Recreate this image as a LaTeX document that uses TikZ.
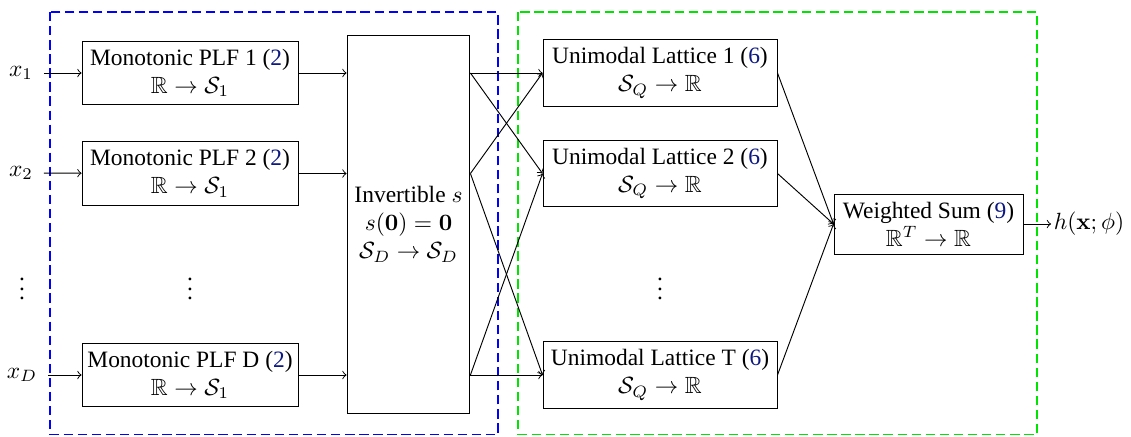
\documentclass[tikz,border=0pt]{standalone}
\usepackage{amssymb}
\usepackage[no-math]{fontspec}
\setmainfont{Liberation Serif}
\definecolor{refblue}{rgb}{0.05,0.1,0.5}
\definecolor{frameblue}{rgb}{0,0,1}
\definecolor{framegreen}{rgb}{0,0.9,0}
\newcommand\rfn[1]{(\textcolor{refblue}{#1})}
\begin{document}
\begin{tikzpicture}[x=0.4264pt,y=-0.4264pt,
  box/.style={draw, align=center, inner sep=2pt},
  plf/.style={box, minimum width=92.1pt, minimum height=26.9pt},
  lat/.style={box, minimum width=99.8pt, minimum height=28.3pt},
  lbl/.style={inner sep=1pt},
  inlbl/.style={inner sep=4.5pt},
  conn/.style={->},
  frame/.style={line width=0.8pt, dash pattern=on 4pt off 2pt}]
\useasboundingbox (0,0) rectangle (1131,436);
% frames
\draw[frame, frameblue] (50,12) rectangle (498,434.5);
\draw[frame, framegreen] (518,12) rectangle (1037,434.5);
% inputs
\node[inlbl] (x1) at (21,73) {$x_1$};
\node[inlbl] (x2) at (21,173) {$x_2$};
\node[inlbl] (xD) at (22,375) {$x_D$};
\node (vd1) at (22,282) {$\vdots$};
% PLF boxes
\node[plf] (p1) at (190,73) {Monotonic PLF 1 \rfn{2}\\$\mathbb{R}\to\mathcal{S}_1$};
\node[plf] (p2) at (190,173.5) {Monotonic PLF 2 \rfn{2}\\$\mathbb{R}\to\mathcal{S}_1$};
\node[plf] (pD) at (190,375) {Monotonic PLF D \rfn{2}\\$\mathbb{R}\to\mathcal{S}_1$};
\node (vd2) at (190,282) {$\vdots$};
% invertible
\node[box, minimum width=52.4pt, minimum height=161.2pt] (inv) at (408.5,224)
  {Invertible $s$\\$s(\mathbf{0})=\mathbf{0}$\\$\mathcal{S}_D\to\mathcal{S}_D$};
% lattices
\node[lat] (l1) at (660,73) {Unimodal Lattice 1 \rfn{6}\\$\mathcal{S}_Q\to\mathbb{R}$};
\node[lat] (l2) at (660,173.5) {Unimodal Lattice 2 \rfn{6}\\$\mathcal{S}_Q\to\mathbb{R}$};
\node[lat] (lT) at (660,375) {Unimodal Lattice T \rfn{6}\\$\mathcal{S}_Q\to\mathbb{R}$};
\node (vd3) at (660,282) {$\vdots$};
% weighted sum
\node[box, minimum width=80.6pt, minimum height=25.6pt] (ws) at (928.5,224)
  {Weighted Sum \rfn{9}\\$\mathbb{R}^T\to\mathbb{R}$};
\node[lbl, anchor=west] (h) at (1051,224) {$h(\mathbf{x};\phi)$};
% coordinates on invertible box
\coordinate (i1) at (inv.west |- p1.east);
\coordinate (i2) at (inv.west |- p2.east);
\coordinate (iD) at (inv.west |- pD.east);
\coordinate (o1) at (inv.east |- l1.west);
\coordinate (o2) at (inv.east |- l2.west);
\coordinate (oD) at (inv.east |- lT.west);
% connectors
\draw[conn] (x1) -- (p1);
\draw[conn] (x2) -- (p2);
\draw[conn] (xD) -- (pD);
\draw[conn] (p1) -- (i1);
\draw[conn] (p2) -- (i2);
\draw[conn] (pD) -- (iD);
\draw[conn] (o1) -- (l1.west);
\draw[conn] (o1) -- (l2.west);
\draw[conn] (o2) -- (l1.west);
\draw[conn] (o2) -- (lT.west);
\draw[conn] (oD) -- (l2.west);
\draw[conn] (oD) -- (lT.west);
\draw[conn] (l1.east) -- (ws.west);
\draw[conn] (l2.east) -- (ws.west);
\draw[conn] (lT.east) -- (ws.west);
\draw[conn] (ws) -- (h);
\end{tikzpicture}
\end{document}
